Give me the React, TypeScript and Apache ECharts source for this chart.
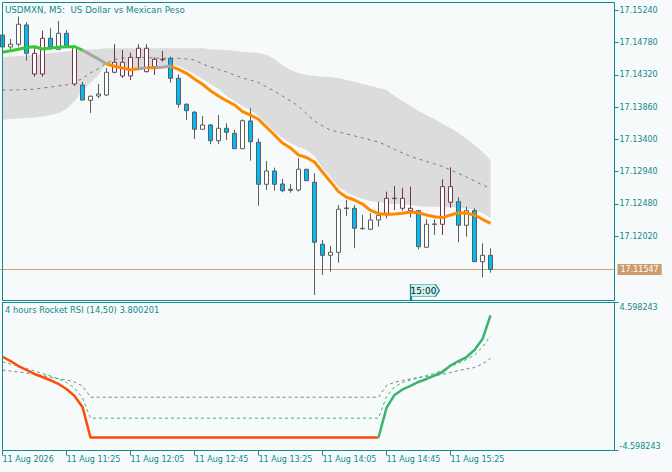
import React, { useEffect, useRef } from "react";
import * as echarts from "echarts";

const chartTitle = "USDMXN, M5:  US Dollar vs Mexican Peso";
const rsiName = "4 hours Rocket RSI (14,50)";

const times = [
  "10:45", "10:50", "10:55", "11:00", "11:05", "11:10", "11:15", "11:20", "11:25", "11:30",
  "11:35", "11:40", "11:45", "11:50", "11:55", "12:00", "12:05", "12:10", "12:15", "12:20",
  "12:25", "12:30", "12:35", "12:40", "12:45", "12:50", "12:55", "13:00", "13:05", "13:10",
  "13:15", "13:20", "13:25", "13:30", "13:35", "13:40", "13:45", "13:50", "13:55", "14:00",
  "14:05", "14:10", "14:15", "14:20", "14:25", "14:30", "14:35", "14:40", "14:45", "14:50",
  "14:55", "15:00", "15:05", "15:10", "15:15", "15:20", "15:25", "15:30", "15:35", "15:40",
  "15:45", "15:50",
];
const emptySlots = 15;
const dateLabel = "11 Aug 2026";
const dayPrefix = "11 Aug ";
const timeTag = "15:00";

const opens = [
  17.14888, 17.14717, 17.14756, 17.15031, 17.14627, 17.14332, 17.14841, 17.14684, 17.14912, 17.14713,
  17.14176, 17.13958, 17.14019, 17.14033, 17.14357, 17.14499, 17.14304, 17.14565, 17.14699, 17.14437,
  17.14542, 17.14556, 17.14271, 17.13901, 17.13787, 17.13545, 17.13606, 17.13382, 17.13559, 17.13487,
  17.13268, 17.13663, 17.13359, 17.12761, 17.12950, 17.12765, 17.12690, 17.12680, 17.12975, 17.12789,
  17.11906, 17.11749, 17.11792, 17.12423, 17.12419, 17.12133, 17.12120, 17.12252, 17.12348, 17.12563,
  17.12561, 17.12419, 17.12385, 17.11863, 17.12195, 17.12191, 17.12727, 17.12513, 17.12177, 17.12385,
  17.11658, 17.11749,
];
const closes = [
  17.14717, 17.14756, 17.15041, 17.14627, 17.14332, 17.14841, 17.14721, 17.14912, 17.14721, 17.14190,
  17.13962, 17.14015, 17.14047, 17.14357, 17.14499, 17.14304, 17.14570, 17.14699, 17.14365, 17.14542,
  17.14535, 17.14271, 17.13901, 17.13810, 17.13545, 17.13606, 17.13382, 17.13559, 17.13502, 17.13268,
  17.13667, 17.13368, 17.12761, 17.12950, 17.12761, 17.12670, 17.12675, 17.12975, 17.12812, 17.11935,
  17.11749, 17.11792, 17.12405, 17.12415, 17.12134, 17.12127, 17.12252, 17.12319, 17.12561, 17.12557,
  17.12419, 17.12385, 17.11872, 17.12191, 17.12190, 17.12727, 17.12505, 17.12177, 17.12385, 17.11658,
  17.11749, 17.11547,
];
const lows = [
  17.14703, 17.14689, 17.14721, 17.14522, 17.14294, 17.14294, 17.14674, 17.14674, 17.14710, 17.14162,
  17.13955, 17.13777, 17.13990, 17.14019, 17.14342, 17.14275, 17.14247, 17.14389, 17.14357, 17.14318,
  17.14508, 17.14209, 17.13852, 17.13677, 17.13406, 17.13542, 17.13331, 17.13335, 17.13392, 17.13264,
  17.13264, 17.13097, 17.12456, 17.12680, 17.12670, 17.12647, 17.12641, 17.12656, 17.12808, 17.11184,
  17.11469, 17.11516, 17.11644, 17.12309, 17.11849, 17.12117, 17.12110, 17.12157, 17.12276, 17.12395,
  17.12385, 17.12291, 17.11835, 17.11860, 17.12039, 17.12039, 17.12428, 17.11935, 17.12014, 17.11654,
  17.11436, 17.11501,
];
const highs = [
  17.14902, 17.14831, 17.15149, 17.15069, 17.14731, 17.14949, 17.14984, 17.15088, 17.14959, 17.14746,
  17.14218, 17.14026, 17.14190, 17.14418, 17.14756, 17.14674, 17.14636, 17.14756, 17.14756, 17.14570,
  17.14660, 17.14579, 17.14328, 17.13915, 17.13805, 17.13734, 17.13620, 17.13748, 17.13630, 17.13535,
  17.13687, 17.13844, 17.13416, 17.13093, 17.12998, 17.12836, 17.12765, 17.13131, 17.12979, 17.12918,
  17.11967, 17.11882, 17.12466, 17.12537, 17.12466, 17.12324, 17.12348, 17.12513, 17.12656, 17.12737,
  17.12712, 17.12727, 17.12395, 17.12262, 17.12262, 17.12832, 17.13003, 17.12576, 17.12442, 17.12419,
  17.11920, 17.11849,
];

const maValues = [
  17.14642, 17.14664, 17.14684, 17.14710, 17.14721, 17.14689, 17.14703, 17.14713, 17.14721, 17.14721,
  17.14674, 17.14607, 17.14546, 17.14475, 17.14442, 17.14418, 17.14394, 17.14408, 17.14422, 17.14422,
  17.14428, 17.14446, 17.14399, 17.14342, 17.14261, 17.14186, 17.14094, 17.14019, 17.13952, 17.13891,
  17.13795, 17.13748, 17.13687, 17.13573, 17.13463, 17.13349, 17.13278, 17.13178, 17.13143, 17.13079,
  17.12936, 17.12798, 17.12656, 17.12576, 17.12537, 17.12480, 17.12388, 17.12345, 17.12331, 17.12338,
  17.12348, 17.12366, 17.12356, 17.12324, 17.12299, 17.12285, 17.12324, 17.12356, 17.12348, 17.12324,
  17.12262, 17.12205,
];
// g = rising (green), n = neutral (gray), o = falling (orange)
const maState = [
  "g", "g", "g", "g", "g", "g", "g", "g", "g", "g",
  "n", "n", "n", "o", "o", "o", "o", "n", "o", "n",
  "n", "o", "o", "o", "o", "o", "o", "o", "o", "o",
  "o", "o", "o", "o", "o", "o", "o", "o", "o", "o",
  "o", "o", "o", "o", "o", "o", "o", "o", "o", "o",
  "o", "o", "o", "o", "o", "o", "o", "o", "o", "o",
  "o", "o",
];

const bandUpper = [
  17.14575, 17.14582, 17.14589, 17.14596, 17.14603, 17.14617, 17.14632, 17.14642, 17.14653, 17.14663,
  17.14674, 17.14682, 17.14689, 17.14699, 17.14699, 17.14699, 17.14699, 17.14699, 17.14699, 17.14699,
  17.14699, 17.14699, 17.14699, 17.14699, 17.14699, 17.14699, 17.14684, 17.14679, 17.14674, 17.14663,
  17.14650, 17.14642, 17.14632, 17.14603, 17.14546, 17.14461, 17.14389, 17.14347, 17.14318, 17.14304,
  17.14294, 17.14290, 17.14275, 17.14247, 17.14218, 17.14190, 17.14162, 17.14133, 17.14105, 17.14019,
  17.13948, 17.13877, 17.13805, 17.13748, 17.13691, 17.13620, 17.13563, 17.13492, 17.13406, 17.13321,
  17.13221, 17.13107,
];
const bandLower = [
  17.13677, 17.13691, 17.13698, 17.13706, 17.13713, 17.13727, 17.13748, 17.13777, 17.13834, 17.13948,
  17.14090, 17.14204, 17.14318, 17.14489, 17.14454, 17.14433, 17.14411, 17.14425, 17.14439, 17.14439,
  17.14446, 17.14461, 17.14446, 17.14389, 17.14332, 17.14261, 17.14190, 17.14119, 17.14019, 17.13948,
  17.13877, 17.13820, 17.13734, 17.13620, 17.13506, 17.13421, 17.13349, 17.13292, 17.13250, 17.13164,
  17.12993, 17.12865, 17.12722, 17.12651, 17.12594, 17.12551, 17.12523, 17.12509, 17.12490, 17.12480,
  17.12473, 17.12466, 17.12452, 17.12442, 17.12442, 17.12442, 17.12437, 17.12430, 17.12419, 17.12395,
  17.12352, 17.12281,
];
const bandMid = [
  17.14105, 17.14105, 17.14107, 17.14112, 17.14115, 17.14133, 17.14147, 17.14162, 17.14176, 17.14218,
  17.14268, 17.14347, 17.14411, 17.14489, 17.14539, 17.14560, 17.14568, 17.14568, 17.14568, 17.14560,
  17.14556, 17.14556, 17.14556, 17.14546, 17.14532, 17.14475, 17.14433, 17.14397, 17.14361, 17.14318,
  17.14275, 17.14247, 17.14211, 17.14147, 17.14090, 17.14019, 17.13948, 17.13877, 17.13763, 17.13663,
  17.13592, 17.13535, 17.13506, 17.13478, 17.13449, 17.13421, 17.13392, 17.13364, 17.13314, 17.13257,
  17.13207, 17.13157, 17.13121, 17.13086, 17.13050, 17.13015, 17.12965, 17.12915, 17.12865, 17.12808,
  17.12751, 17.12704,
];

const priceTicks = [17.1202, 17.1248, 17.1294, 17.134, 17.1386, 17.1432, 17.1478, 17.1524];
const priceMin = 17.11105;
const priceMax = 17.15351;

const rsiMain = [
  1.228, 0.961, 0.651, 0.404, 0.156, -0.03, -0.234, -0.464, -0.773, -1.207,
  -1.889, -3.79, -3.79, -3.79, -3.79, -3.79, -3.79, -3.79, -3.79, -3.79,
  -3.79, -3.79, -3.79, -3.79, -3.79, -3.79, -3.79, -3.79, -3.79, -3.79,
  -3.79, -3.79, -3.79, -3.79, -3.79, -3.79, -3.79, -3.79, -3.79, -3.79,
  -3.79, -3.79, -3.79, -3.79, -3.79, -3.79, -3.79, -3.79, -1.951, -1.145,
  -0.805, -0.588, -0.34, -0.154, 0.063, 0.28, 0.682, 0.961, 1.209, 1.643,
  2.324, 3.800201,
];
const rsiState = [
  "d", "d", "d", "d", "d", "d", "d", "d", "d", "d",
  "d", "d", "d", "d", "d", "d", "d", "d", "d", "d",
  "d", "d", "d", "d", "d", "d", "d", "d", "d", "d",
  "d", "d", "d", "d", "d", "d", "d", "d", "d", "d",
  "d", "d", "d", "d", "d", "d", "d", "u", "u", "u",
  "u", "u", "u", "u", "u", "u", "u", "u", "u", "u",
  "u", "u",
];
const rsiSignalFast = [
  0.918, 0.775, 0.651, 0.496, 0.341, 0.187, 0.032, -0.154, -0.371, -0.712,
  -1.331, -2.589, -2.589, -2.589, -2.589, -2.589, -2.589, -2.589, -2.589, -2.589,
  -2.589, -2.589, -2.589, -2.589, -2.589, -2.589, -2.589, -2.589, -2.589, -2.589,
  -2.589, -2.589, -2.589, -2.589, -2.589, -2.589, -2.589, -2.589, -2.589, -2.589,
  -2.589, -2.589, -2.589, -2.589, -2.589, -2.589, -2.589, -2.589, -1.25, -0.65,
  -0.371, -0.216, -0.092, 0.063, 0.187, 0.403, 0.62, 0.837, 1.054, 1.333,
  1.828, 2.529,
];
const rsiSignalSlow = [
  0.403, 0.341, 0.28, 0.218, 0.137, 0.063, -0.03, -0.136, -0.216, -0.34,
  -0.588, -1.288, -1.288, -1.288, -1.288, -1.288, -1.288, -1.288, -1.288, -1.288,
  -1.288, -1.288, -1.288, -1.288, -1.288, -1.288, -1.288, -1.288, -1.288, -1.288,
  -1.288, -1.288, -1.288, -1.288, -1.288, -1.288, -1.288, -1.288, -1.288, -1.288,
  -1.288, -1.288, -1.288, -1.288, -1.288, -1.288, -1.288, -1.288, -0.557, -0.359,
  -0.247, -0.154, -0.061, 0.001, 0.063, 0.125, 0.249, 0.372, 0.465, 0.558,
  0.775, 1.128,
];
const rsiBound = 4.598243;

// candles drawn in the tinted (inside-band) colours
const tintedBars = [4, 5, 9, 14, 15, 16, 17, 18, 19, 20, 48, 49, 50, 51, 55, 56];

const TEAL = "#12898c";
const FONT = "DejaVu Sans";
const BG = "#f6fafb";

const maColors: Record<string, string> = { g: "#35c934", n: "#a6a6a6", o: "#ff8a00" };
const rsiColors: Record<string, string> = { d: "#ff4a0a", u: "#3cb371" };

function runSeries(values: number[], states: string[], colors: Record<string, string>, base: any) {
  const out: any[] = [];
  let start = 0;
  for (let i = 1; i <= states.length; i++) {
    if (i === states.length || states[i] !== states[start]) {
      const end = Math.min(i, values.length - 1);
      const data = values.map((v, k) => (k >= start && k <= end ? v : null));
      out.push({
        ...base,
        type: "line",
        data,
        symbol: "none",
        connectNulls: false,
        lineStyle: { ...(base.lineStyle || {}), color: colors[states[start]] },
        itemStyle: { color: colors[states[start]] },
      });
      start = i;
    }
  }
  return out;
}

export default function App() {
  const ref = useRef<HTMLDivElement>(null);

  useEffect(() => {
    if (!ref.current) return;
    const chart = echarts.init(ref.current, null, { renderer: "svg" });

    const categories = [...times];
    for (let i = 0; i < emptySlots; i++) categories.push("+" + i);
    const nReal = times.length;

    const tintStyle = {
      color: "#ffffff",
      color0: "#2f86d2",
      borderColor: "#74354f",
      borderColor0: "#74354f",
    };
    const candleData = opens.map((o, i) => {
      const value = [o, closes[i], lows[i], highs[i]];
      return tintedBars.includes(i) ? { value, itemStyle: tintStyle } : value;
    });
    const lastClose = closes[closes.length - 1];

    const bandWidth = bandUpper.map((u, i) => +(u - bandLower[i]).toFixed(5));

    const labelText = { color: TEAL, fontSize: 8, fontFamily: FONT };

    const option: any = {
      animation: false,
      backgroundColor: BG,
      title: [
        {
          text: chartTitle,
          left: 5,
          top: 5,
          padding: 0,
          textStyle: { color: TEAL, fontSize: 8.7, fontWeight: "normal", fontFamily: FONT },
        },
        {
          text: `${rsiName} ${rsiMain[rsiMain.length - 1].toFixed(6)}`,
          left: 5,
          top: 306,
          padding: 0,
          textStyle: { color: TEAL, fontSize: 8.4, fontWeight: "normal", fontFamily: FONT },
        },
      ],
      grid: [
        { left: -1.5, top: 2.5, width: 616, height: 298, outerBoundsMode: "none", containLabel: false },
        { left: -1.5, top: 302.5, width: 616, height: 148, outerBoundsMode: "none", containLabel: false },
      ],
      xAxis: [
        {
          type: "category",
          gridIndex: 0,
          data: categories,
          boundaryGap: true,
          axisLine: { show: false, onZero: false },
          axisTick: { show: false },
          axisLabel: { show: false },
          splitLine: { show: false },
        },
        {
          type: "category",
          gridIndex: 1,
          data: categories,
          boundaryGap: true,
          position: "bottom",
          axisLine: { show: false, onZero: false },
          axisTick: {
            show: true,
            alignWithLabel: true,
            length: 5,
            interval: (idx: number) => idx % 8 === 0 && idx < nReal,
            lineStyle: { color: TEAL, width: 1 },
          },
          axisLabel: {
            show: true,
            interval: (idx: number) => idx % 8 === 0 && idx < nReal,
            align: "left",
            margin: 5,
            hideOverlap: false,
            ...labelText,
            formatter: (val: string, idx: number) =>
              idx === 0 ? dateLabel : idx < nReal ? dayPrefix + val : "",
          },
          splitLine: { show: false },
        },
      ],
      yAxis: [
        {
          type: "value",
          gridIndex: 0,
          position: "right",
          min: priceMin,
          max: priceMax,
          splitLine: { show: false },
          axisLine: { show: false },
          axisTick: {
            show: true,
            length: 4,
            customValues: priceTicks,
            lineStyle: { color: TEAL, width: 1 },
          },
          axisLabel: {
            show: true,
            customValues: priceTicks,
            margin: 5,
            hideOverlap: false,
            ...labelText,
            formatter: (v: number) => v.toFixed(5),
          },
        },
        {
          type: "value",
          gridIndex: 1,
          position: "right",
          min: -rsiBound,
          max: rsiBound,
          splitLine: { show: false },
          axisLine: { show: false },
          axisTick: {
            show: true,
            length: 4,
            customValues: [-rsiBound, rsiBound],
            lineStyle: { color: TEAL, width: 1 },
          },
          axisLabel: {
            show: true,
            customValues: [-rsiBound, rsiBound],
            margin: 5,
            ...labelText,
            formatter: (v: number) =>
              v > 0 ? `{t|${v.toFixed(6)}}` : `{b|${v.toFixed(6)}}`,
            rich: {
              t: { ...labelText, padding: [10, 0, 0, 0] },
              b: { ...labelText, padding: [0, 0, 9, 0] },
            },
          },
        },
        {
          // current price level: line + tag
          type: "value",
          gridIndex: 0,
          position: "right",
          min: priceMin,
          max: priceMax,
          axisLine: { show: false },
          axisTick: { show: false, customValues: [lastClose] },
          splitLine: { show: true, lineStyle: { color: "#d4a07a", width: 1, type: "solid" } },
          axisLabel: {
            show: true,
            customValues: [lastClose],
            margin: 3,
            formatter: (v: number) => v.toFixed(5),
            color: "#ffffff",
            backgroundColor: "#d09a6b",
            padding: [2, 3, 1, 3],
            fontSize: 8,
            fontFamily: FONT,
          },
        },
      ],
      series: [
        {
          name: "bandBase",
          type: "line",
          xAxisIndex: 0,
          yAxisIndex: 0,
          data: bandLower,
          stack: "band",
          symbol: "none",
          lineStyle: { width: 0, opacity: 0 },
          z: 1,
          silent: true,
        },
        {
          name: "bandFill",
          type: "line",
          xAxisIndex: 0,
          yAxisIndex: 0,
          data: bandWidth,
          stack: "band",
          symbol: "none",
          lineStyle: { width: 0, opacity: 0 },
          areaStyle: { color: "#dcdcdc", opacity: 1 },
          z: 1,
          silent: true,
        },
        {
          name: "bandMid",
          type: "line",
          xAxisIndex: 0,
          yAxisIndex: 0,
          data: bandMid,
          symbol: "none",
          lineStyle: { color: "#7a7a7a", width: 1, type: [3, 4] },
          z: 2,
          silent: true,
        },
        {
          name: "price",
          type: "candlestick",
          xAxisIndex: 0,
          yAxisIndex: 0,
          data: candleData,
          barWidth: 4,
          z: 3,
          itemStyle: {
            color: "#ffffff",
            color0: "#00baf6",
            borderColor: "#5c5c5c",
            borderColor0: "#5c5c5c",
            borderWidth: 1,
          },
          markPoint: {
            silent: true,
            animation: false,
            symbol: "path://M0,0 L25,0 L29,6 L25,12 L1,12 L1,16 L0,16 Z",
            symbolSize: [29, 16],
            symbolOffset: [14.5, -8],
            itemStyle: { color: "#cdf3ef", borderColor: TEAL, borderWidth: 1 },
            label: {
              show: true,
              position: "inside",
              formatter: () => timeTag,
              color: "#05201f",
              fontSize: 9,
              fontFamily: FONT,
              offset: [-1.5, -2],
            },
            data: [{ coord: [timeTag, priceMin] }],
          },
        },
        ...runSeries(maValues, maState, maColors, {
          xAxisIndex: 0,
          yAxisIndex: 0,
          z: 4,
          silent: true,
          lineStyle: { width: 3 },
        }),
        {
          name: "rsiSlow",
          type: "line",
          xAxisIndex: 1,
          yAxisIndex: 1,
          data: rsiSignalSlow,
          symbol: "none",
          lineStyle: { color: "#808080", width: 1, type: [3, 3] },
          z: 2,
          silent: true,
        },
        {
          name: "rsiFast",
          type: "line",
          xAxisIndex: 1,
          yAxisIndex: 1,
          data: rsiSignalFast,
          symbol: "none",
          lineStyle: { color: "#3cb371", width: 1, type: [3, 3] },
          z: 2,
          silent: true,
        },
        ...runSeries(rsiMain, rsiState, rsiColors, {
          xAxisIndex: 1,
          yAxisIndex: 1,
          z: 4,
          silent: true,
          lineStyle: { width: 2.5 },
        }),
      ],
      graphic: [
        {
          type: "rect",
          z: 100,
          silent: true,
          shape: { x: 2.5, y: 2.5, width: 612, height: 298 },
          style: { fill: "none", stroke: TEAL, lineWidth: 1 },
        },
        {
          type: "rect",
          z: 100,
          silent: true,
          shape: { x: 2.5, y: 302.5, width: 612, height: 148 },
          style: { fill: "none", stroke: TEAL, lineWidth: 1 },
        },
      ],
    };

    chart.setOption(option);
    return () => chart.dispose();
  }, []);

  return (
    <div
      ref={ref}
      style={{ position: "fixed", left: 0, top: 0, width: 672, height: 472, background: BG }}
    />
  );
}
